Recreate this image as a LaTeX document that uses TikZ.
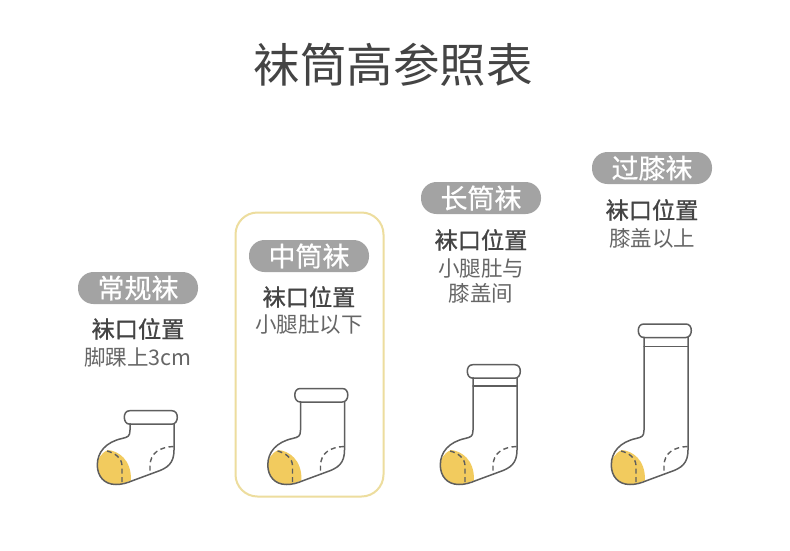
\documentclass[tikz,border=0pt]{standalone}
\usepackage{fontspec}
\setmainfont{Noto Sans CJK SC}
\newfontfamily\medcjk[FakeBold=0.5]{Noto Sans CJK SC}
\newfontfamily\headcjk[FakeBold=1.0]{Noto Sans CJK SC}
\definecolor{ink}{HTML}{444444}
\definecolor{soft}{HTML}{666666}
\definecolor{pill}{HTML}{A3A3A3}
\definecolor{frameY}{HTML}{EDDD9E}
\definecolor{toeY}{HTML}{F2CB5E}
\definecolor{sockline}{HTML}{5E5E5E}
\tikzset{
  title/.style={text=ink,font=\fontsize{46.5}{50}\selectfont,inner sep=0pt,anchor=center},
  badge/.style={fill=pill,rounded corners=15.5pt,minimum width=120pt,minimum height=32pt,inner sep=0pt,text=white,font=\medcjk\fontsize{27}{30}\selectfont,anchor=center},
  headtxt/.style={text=ink,font=\headcjk\fontsize{23.2}{26}\selectfont,inner sep=0pt,anchor=center},
  subtxt/.style={text=soft,font=\fontsize{21.5}{25}\selectfont,inner sep=0pt,anchor=center,align=center},
  sockout/.style={draw=sockline,line width=1.5pt,line join=round,line cap=round},
  sockdash/.style={draw=sockline,line width=1.4pt,dash pattern=on 5pt off 3.5pt},
}
% #1 x offset, #2 top of cuff, #3 band line y (0 = none)
\newcommand{\sockpic}[3]{%
\begin{scope}[xshift=#1pt]
  \fill[toeY] (108,450) .. controls (118,451) and (131.5,459) .. (131,480.5)
     .. controls (124,483) and (120,484.5) .. (116,484.5)
     .. controls (104,484.5) and (97.3,476) .. (97.3,465)
     .. controls (97.3,459) and (101,453) .. (108,450) -- cycle;
  \draw[sockout] (130,#2+13) -- (130,430)
     .. controls (130,436.5) and (128,437) .. (122,438.5)
     .. controls (106,442) and (97.3,452) .. (97.3,465)
     .. controls (97.3,476) and (104,484.5) .. (116,484.5)
     .. controls (122,484.5) and (127,483) .. (133,480.5)
     -- (156,472)
     .. controls (168,468) and (174,463) .. (174,450)
     -- (174,#2+13);
  \draw[sockout] (129.8,#2) -- (171.8,#2)
     .. controls (175.5,#2) and (177.3,#2+3) .. (177.3,#2+6.5)
     .. controls (177.3,#2+10) and (175.5,#2+13.5) .. (171.8,#2+13.5)
     -- (129.8,#2+13.5)
     .. controls (126,#2+13.5) and (124.3,#2+10) .. (124.3,#2+6.5)
     .. controls (124.3,#2+3) and (126,#2) .. (129.8,#2) -- cycle;
  \ifdim#3pt>0pt \draw[sockout] (130,#3) -- (174,#3); \fi
  \draw[sockdash] (107,451) .. controls (115,453) and (122,458) .. (122,466) -- (122,484);
  \draw[sockdash] (173.5,446.5) .. controls (160,447) and (150,453) .. (150,466) -- (150,474);
\end{scope}}
\begin{document}
\begin{tikzpicture}[x=1pt,y=-1pt]
\useasboundingbox (0,0) rectangle (790,550);
\fill[white] (0,0) rectangle (790,550);
\node[title] (ttl) at (393,65) {袜筒高参照表};

\node[draw=frameY,line width=2pt,rounded corners=22pt,minimum width=148pt,minimum height=284pt,inner sep=0pt] (frame) at (309.5,354.5) {};

\node[badge] (b1) at (138,288) {常规袜};
\node[badge] (b2) at (309,256) {中筒袜};
\node[badge] (b3) at (481,198) {长筒袜};
\node[badge] (b4) at (652,168) {过膝袜};

\node[headtxt] (h1) at (138,329) {袜口位置};
\node[headtxt] (h2) at (309,297) {袜口位置};
\node[headtxt] (h3) at (481,240) {袜口位置};
\node[headtxt] (h4) at (652,210) {袜口位置};

\node[subtxt] (s1) at (138,357) {脚踝上3cm};
\node[subtxt] (s2) at (309,325) {小腿肚以下};
\node[subtxt] (s3) at (481,281) {小腿肚与\\膝盖间};
\node[subtxt] (s4) at (652,238) {膝盖以上};

\sockpic{0}{410.7}{0}
\sockpic{170.5}{388.5}{0}
\sockpic{343}{364.7}{386}
\sockpic{514}{324}{346.5}
\end{tikzpicture}
\end{document}
